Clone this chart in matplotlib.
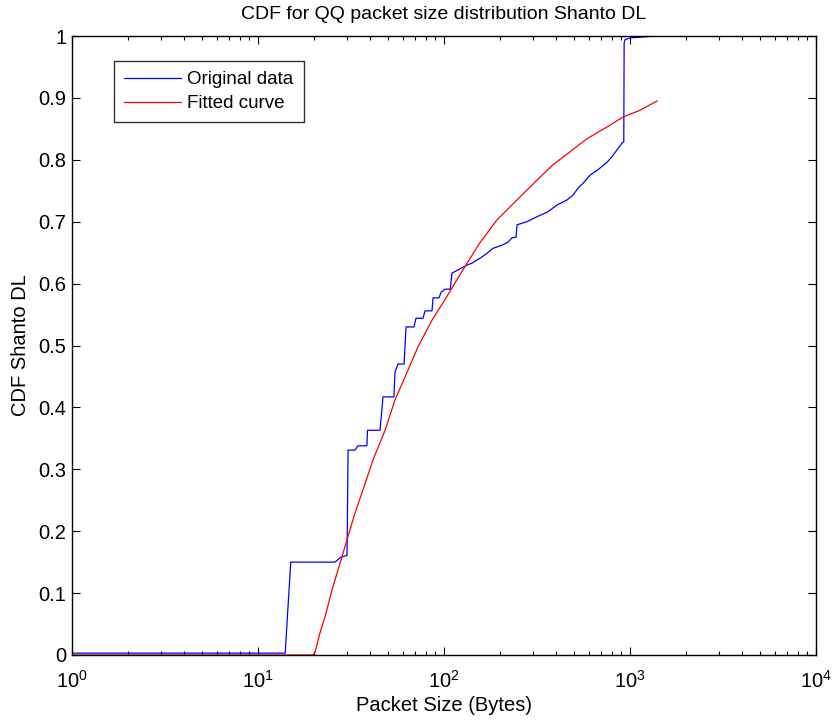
import numpy as np
import matplotlib.pyplot as plt

plt.rcParams['font.family'] = ['Liberation Sans', 'DejaVu Sans']

size_orig = [1, 14.0, 15.0, 25.9, 27.9, 30.1, 30.5, 33.2, 34.5, 38.5, 38.8, 45.3,
             47.0, 53.8, 54.5, 56.6, 61.0, 62.5, 69.0, 70.7, 77.1, 79.1, 86.2,
             87.3, 94.0, 96.4, 101.2, 108, 110.4, 118.9, 133, 141.5, 150.4, 160,
             170.3, 183.4, 205, 221, 232, 244, 247, 279, 316, 362, 405, 458, 494,
             525, 559, 609, 673, 752, 800, 851, 906, 926, 930, 940, 1000, 1132,
             1363, 1397]
cdf_orig = [0.003, 0.003, 0.150, 0.150, 0.158, 0.161, 0.331, 0.331, 0.338, 0.338,
            0.363, 0.363, 0.417, 0.417, 0.457, 0.470, 0.470, 0.530, 0.530, 0.544,
            0.544, 0.556, 0.556, 0.577, 0.577, 0.586, 0.591, 0.591, 0.617, 0.622,
            0.630, 0.633, 0.638, 0.643, 0.649, 0.657, 0.662, 0.667, 0.674, 0.675,
            0.695, 0.700, 0.708, 0.716, 0.727, 0.735, 0.743, 0.754, 0.762, 0.775,
            0.784, 0.796, 0.805, 0.816, 0.827, 0.829, 0.989, 0.994, 0.997, 0.998,
            1.0, 1.0]

# fitted curve
size_fit = [1, 19.8, 20.3, 21.5, 22.9, 25.0, 26.9, 30.1, 33.2, 36.7, 41.5, 48.2,
            54.5, 61.7, 72.5, 86.2, 101.2, 110.4, 133, 156, 192.8, 226.3, 279, 316,
            385.5, 475.7, 587, 752, 916, 1132, 1397]
cdf_fit = [0, 0, 0.005, 0.035, 0.061, 0.105, 0.137, 0.186, 0.229, 0.267, 0.315,
           0.363, 0.412, 0.449, 0.498, 0.541, 0.574, 0.593, 0.633, 0.666, 0.703,
           0.724, 0.751, 0.767, 0.792, 0.813, 0.834, 0.853, 0.869, 0.880, 0.895]

fig = plt.figure(figsize=(8.33, 7.22), dpi=100)
ax = fig.add_axes([72/833, 67/722, 744/833, 619/722])

ax.plot(size_orig, cdf_orig, color='blue', lw=0.9, label='Original data')
ax.plot(size_fit, cdf_fit, color='red', lw=0.9, label='Fitted curve')

ax.set_xscale('log')
ax.set_xlim(1, 1e4)
ax.set_ylim(0, 1)
ax.set_yticks(np.arange(0, 1.01, 0.1))
ax.set_yticklabels(['0', '0.1', '0.2', '0.3', '0.4', '0.5', '0.6', '0.7', '0.8', '0.9', '1'])

ax.tick_params(which='both', direction='in', top=True, right=True, labelsize=14.5, colors='black')
ax.tick_params(which='major', length=6, width=0.8)
ax.tick_params(which='minor', length=3, width=0.8)
ax.tick_params(axis='x', pad=11)
ax.tick_params(axis='y', pad=4)
for s in ax.spines.values():
    s.set_linewidth(1.0)

ax.set_xlabel('Packet Size (Bytes)', fontsize=14.5, labelpad=3)
ax.set_ylabel('CDF Shanto DL', fontsize=14.5, labelpad=6)
ax.set_title('CDF for QQ packet size distribution Shanto DL', fontsize=14, pad=12)

leg = ax.legend(loc='upper left', bbox_to_anchor=(42/744, 594/619), borderaxespad=0,
                fancybox=False, edgecolor='black', fontsize=13.5, handlelength=3.0,
                handletextpad=0.35, labelspacing=0.35, borderpad=0.55)
leg.get_frame().set_linewidth(1.0)

plt.savefig('out.png', dpi=100)
